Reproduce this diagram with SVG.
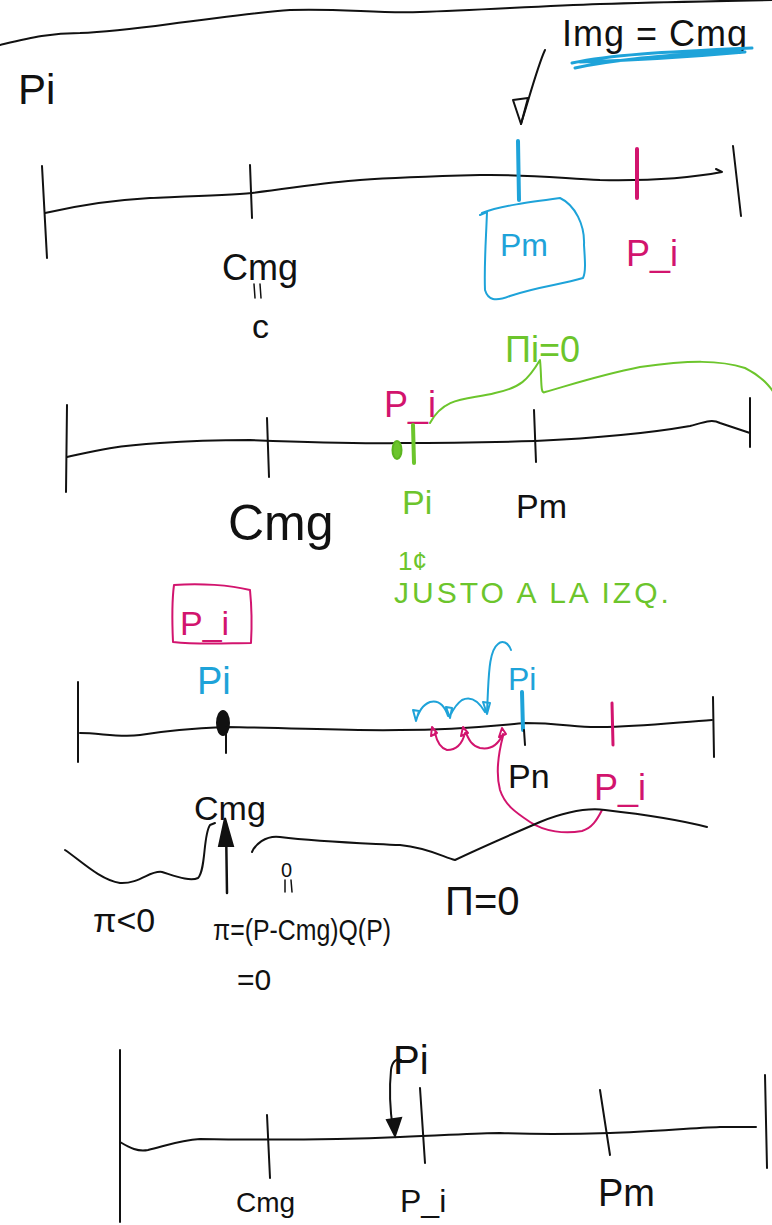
<svg xmlns="http://www.w3.org/2000/svg" width="772" height="1225" viewBox="0 0 772 1225">
<style>
.k{fill:none;stroke:#111;stroke-width:2;stroke-linecap:round;stroke-linejoin:round}
.b{fill:none;stroke:#1ea3d9;stroke-width:2;stroke-linecap:round;stroke-linejoin:round}
.m{fill:none;stroke:#d2146e;stroke-width:2;stroke-linecap:round;stroke-linejoin:round}
.g{fill:none;stroke:#6cc52c;stroke-width:2;stroke-linecap:round;stroke-linejoin:round}
.w{stroke-width:4}
text{font-family:"Liberation Sans","DejaVu Sans",sans-serif}
.tk{fill:#111}.tb{fill:#1ea3d9}.tm{fill:#d2146e}.tg{fill:#6cc52c}
</style>
<rect width="772" height="1225" fill="#fff"/>

<g id="section1">
  <path class="k" d="M0,45 C30,38 50,33 80,33 C110,32 140,28 170,24 C220,18 260,12 290,10 C340,8 380,14 420,12 C480,10 540,6 600,4 C660,2 720,1 772,0"/>
  <text class="tk" x="18" y="104" font-size="42">Pi</text>
  <text class="tk" x="562" y="46" font-size="36" letter-spacing="1">Img = Cmg</text>
  <path class="b" style="stroke-width:3" d="M572,63 C610,55 660,52 752,48 M575,68 C620,58 680,55 740,50 M580,62 C640,60 700,56 745,52"/>
  <path class="k" d="M545,50 C538,65 530,95 521,124"/>
  <path class="k" d="M513,100 L528,98 L521,124 Z"/>
  <path class="k" d="M45,213 C80,205 110,200 150,198 C200,196 230,195 252,193 C300,187 330,182 360,180 C400,177 440,176 480,175 C520,174 560,178 600,180 C650,181 690,178 722,172 L716,169"/>
  <path class="k" d="M42,166 L47,258"/>
  <path class="k" d="M250,165 L252,218"/>
  <path class="k" d="M733,146 L741,216"/>
  <path class="b w" d="M518,141 L519,200"/>
  <path class="m w" d="M637,149 L637,198"/>
  <path class="b" d="M482,213 C500,206 530,202 560,198 C575,205 585,225 584,245 C585,260 586,272 583,278 C560,285 540,286 510,296 C495,302 488,300 485,290 C484,265 486,240 487,212 L480,215"/>
  <text class="tb" x="500" y="256" font-size="32">Pm</text>
  <text class="tm" x="626" y="266" font-size="36">P_i</text>
  <text class="tk" x="222" y="280" font-size="36">Cmg</text>
  <path class="k" style="stroke-width:1.5" d="M254,284 L255,298 M260,284 L261,298"/>
  <text class="tk" x="252" y="338" font-size="34">c</text>
</g>

<g id="section2">
  <text class="tg" x="505" y="362" font-size="36">Πi=0</text>
  <path class="g" d="M430,423 C445,395 470,400 495,393 C520,388 528,380 540,360 C542,380 540,395 545,392 C570,385 600,375 640,367 C690,360 720,360 745,368 C765,378 775,392 777,400"/>
  <text class="tm" x="384" y="417" font-size="36">P_i</text>
  <path class="k" d="M67,457 C90,452 110,446 160,443 C200,440 230,440 250,440 C300,442 350,444 400,443 C450,443 500,442 535,441 C600,438 650,433 690,426 C705,422 712,419 720,423 L750,433"/>
  <path class="k" d="M67,405 L66,492"/>
  <path class="k" d="M267,418 L269,477"/>
  <path class="k" d="M534,410 L536,462"/>
  <path class="k" d="M750,398 L750,447"/>
  <ellipse cx="397" cy="450" rx="4.5" ry="9" fill="#6cc52c" stroke="#5cb520" stroke-width="2"/>
  <path class="g w" d="M413,425 L414,463"/>
  <text class="tk" x="228" y="540" font-size="50">Cmg</text>
  <text class="tg" x="402" y="514" font-size="34">Pi</text>
  <text class="tk" x="516" y="518" font-size="34">Pm</text>
  <text class="tg" x="398" y="570" font-size="26">1¢</text>
  <text class="tg" x="394" y="603" font-size="30" letter-spacing="3">JUSTO A LA IZQ.</text>
</g>

<g id="section3">
  <path class="m" d="M174,585 C200,583 230,585 250,590 C252,610 252,625 251,643 C230,643 200,645 173,642 C172,620 172,600 174,585 Z"/>
  <text class="tm" x="180" y="635" font-size="34">P_i</text>
  <text class="tb" x="197" y="694" font-size="38">Pi</text>
  <path class="k" d="M80,733 C100,733 120,738 140,735 C170,730 200,728 225,727 C300,728 350,731 400,730 C460,730 500,725 525,723 C560,723 580,728 600,727 C640,727 680,722 712,720"/>
  <path class="k" d="M78,682 L78,762"/>
  <path class="k" d="M713,697 L714,757"/>
  <ellipse cx="223" cy="723" rx="7" ry="13" fill="#111"/>
  <path class="k" d="M226,727 L226,753"/>
  <path class="b w" d="M522,692 L523,730"/>
  <path class="k" d="M524,730 L525,745"/>
  <path class="m" style="stroke-width:3" d="M612,703 L613,745"/>
  <text class="tb" x="508" y="690" font-size="32">Pi</text>
  <path class="b" d="M511,650 C508,642 502,640 498,644 C490,650 489,670 488,690 L487,712"/>
  <path class="b" d="M483,702 L490,703 L487,714 Z M485,712 C478,700 470,696 462,700 C455,705 452,712 450,716 M446,707 L452,708 L450,718 Z M448,716 C444,704 438,700 430,702 C422,705 419,712 416,720 M413,710 L419,711 L416,721 Z"/>
  <path class="m" d="M502,728 L506,734 L499,737 Z M503,734 C498,745 490,750 480,748 C472,746 469,740 466,733 M463,727 L468,733 L461,736 Z M465,733 C462,745 455,750 447,750 C440,748 437,742 435,733 M432,727 L437,733 L431,736 Z"/>
  <path class="m" d="M503,736 C498,755 496,775 500,790 C505,805 515,812 530,822 C545,832 565,834 582,831 C592,828 597,820 602,810"/>
  <text class="tk" x="508" y="788" font-size="34">Pn</text>
  <text class="tm" x="594" y="800" font-size="36">P_i</text>
  <text class="tk" x="194" y="820" font-size="34">Cmg</text>
  <path class="k" style="stroke-width:2.5" d="M227,893 L226,824"/>
  <path d="M219,846 L225,818 L233,846 Z" fill="#111" stroke="#111" stroke-width="2"/>
  <path class="k" d="M65,850 C80,860 100,880 120,883 C140,884 150,870 162,872 C175,876 190,882 198,878 C206,870 203,835 210,825 L215,823"/>
  <path class="k" d="M252,852 C255,845 265,835 280,837 C320,842 360,843 400,845 C430,848 445,858 455,860 C480,848 510,835 540,822 C570,810 590,808 605,810 C640,814 680,820 707,827"/>
  <text class="tk" x="93" y="932" font-size="34">π&lt;0</text>
  <text class="tk" x="281" y="877" font-size="20">0</text>
  <path class="k" style="stroke-width:1.5" d="M285,880 L285,892 M291,880 L292,892"/>
  <text class="tk" x="213" y="940" font-size="30" textLength="178" lengthAdjust="spacingAndGlyphs">π=(P-Cmg)Q(P)</text>
  <text class="tk" x="237" y="990" font-size="30">=0</text>
  <text class="tk" x="445" y="915" font-size="40">Π=0</text>
</g>

<g id="section4">
  <path class="k" d="M120,1050 L120,1222"/>
  <path class="k" d="M120,1142 C130,1148 138,1152 148,1150 C165,1146 180,1140 200,1139 C260,1140 330,1140 400,1137 C450,1135 480,1133 500,1133 C550,1135 580,1134 610,1133 C650,1132 690,1128 720,1127 L756,1127"/>
  <path class="k" d="M267,1115 L270,1178"/>
  <path class="k" d="M420,1088 L425,1163"/>
  <path class="k" d="M600,1090 L610,1155"/>
  <path class="k" d="M765,1075 L767,1168"/>
  <text class="tk" x="393" y="1074" font-size="40">Pi</text>
  <path class="k" d="M401,1060 C396,1058 392,1062 391,1070 C389,1090 390,1110 393,1130"/>
  <path d="M387,1120 L401,1118 L395,1136 Z" fill="#111" stroke="#111" stroke-width="2"/>
  <text class="tk" x="236" y="1212" font-size="28">Cmg</text>
  <text class="tk" x="400" y="1212" font-size="32">P_i</text>
  <text class="tk" x="598" y="1206" font-size="38">Pm</text>
</g>
</svg>
